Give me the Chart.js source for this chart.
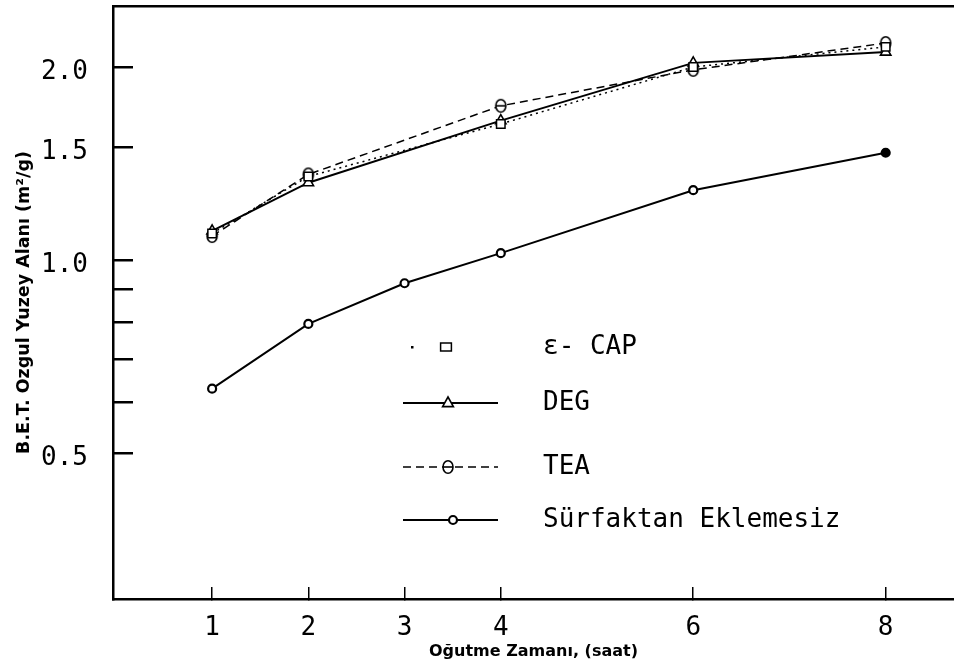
<!DOCTYPE html>
<html lang="tr">
<head>
<meta charset="utf-8">
<title>B.E.T. yüzey alanı - öğütme zamanı</title>
<script src="https://cdn.jsdelivr.net/npm/chart.js@4.4.1/dist/chart.umd.min.js"></script>
<style>
  html, body { margin: 0; padding: 0; background: #fff; }
  #wrap { position: relative; width: 954px; height: 666px; }
</style>
</head>
<body>
<div id="wrap"><canvas id="chart"></canvas></div>
<script>
// Öğütme zamanı (saat)
const saatUst = [1, 2, 4, 6, 8];
const saatAlt = [1, 2, 3, 4, 6, 8];

// B.E.T. özgül yüzey alanı (m2/g)
const capValues = [1.10, 1.35, 1.63, 2.00, 2.15];
const degValues = [1.11, 1.32, 1.65, 2.03, 2.11];
const teaValues = [1.09, 1.36, 1.74, 1.98, 2.18];
const surfValues = [0.63, 0.795, 0.92, 1.025, 1.285, 1.47];

const seriesNames = ['ε- CAP', 'DEG', 'TEA', 'Sürfaktan Eklemesiz'];

const xTicks = [1, 2, 3, 4, 6, 8];
const yTicks = [0.5, 0.6, 0.7, 0.8, 0.9, 1.0, 1.5, 2.0];
const yLabels = ['0.5', '', '', '', '', '1.0', '1.5', '2.0'];

const monoFont = "'DejaVu Sans Mono', 'Liberation Mono', monospace";
const sansFont = "'DejaVu Sans', 'Noto Sans', sans-serif";

function toPoints(xs, ys) {
  return xs.map((x, i) => ({ x: x, y: ys[i] }));
}

// θ shaped marker for TEA
function makeTheta() {
  const c = document.createElement('canvas');
  c.width = 14;
  c.height = 16;
  const g = c.getContext('2d');
  g.fillStyle = '#fff';
  g.strokeStyle = '#000';
  g.lineWidth = 1.6;
  g.beginPath();
  g.ellipse(7, 8, 5, 6.3, 0, 0, Math.PI * 2);
  g.fill();
  g.stroke();
  g.beginPath();
  g.moveTo(2, 8);
  g.lineTo(12, 8);
  g.stroke();
  return c;
}
const thetaImg = makeTheta();

// legend sits inside the plot, rows placed like the original
const legendRowY = [347, 403, 467, 520];
const legendLineX = [403, 498];
const legendMarkX = [446, 448, 448, 453];
const legendTextX = 543;

function drawMark(c, ds, x, y) {
  const r = ds.pointRadius;
  c.save();
  c.setLineDash([]);
  c.fillStyle = '#fff';
  c.strokeStyle = '#000';
  c.lineWidth = ds.pointBorderWidth;
  if (ds.pointStyle instanceof HTMLCanvasElement) {
    c.drawImage(ds.pointStyle, x - ds.pointStyle.width / 2, y - ds.pointStyle.height / 2);
  } else if (ds.pointStyle === 'rect') {
    c.beginPath();
    c.rect(x - r * 0.9, y - r * 0.65, r * 1.8, r * 1.3);
    c.fill();
    c.stroke();
  } else if (ds.pointStyle === 'triangle') {
    c.beginPath();
    c.moveTo(x, y - r);
    c.lineTo(x + r * 0.9, y + r * 0.6);
    c.lineTo(x - r * 0.9, y + r * 0.6);
    c.closePath();
    c.fill();
    c.stroke();
  } else {
    c.beginPath();
    c.arc(x, y, r, 0, Math.PI * 2);
    c.fill();
    c.stroke();
  }
  c.restore();
}

const legendPlugin = {
  id: 'insideLegend',
  afterDraw(chart) {
    const c = chart.ctx;
    chart.data.datasets.forEach((ds, i) => {
      const y = legendRowY[i];
      c.save();
      c.strokeStyle = '#000';
      c.fillStyle = '#000';
      if (i === 0) {
        // dotted sample: only a dot before the square
        c.fillRect(411, y - 1, 2.5, 2.5);
      } else {
        c.lineWidth = ds.borderWidth;
        c.setLineDash(ds.borderDash || []);
        c.beginPath();
        c.moveTo(legendLineX[0], y);
        c.lineTo(legendLineX[1], y);
        c.stroke();
      }
      c.restore();
      drawMark(c, ds, legendMarkX[i], y);
      c.save();
      c.fillStyle = '#000';
      c.font = '26px ' + monoFont;
      c.textBaseline = 'middle';
      c.textAlign = 'left';
      c.fillText(ds.label, legendTextX, y);
      c.restore();
    });
  }
};

new Chart(document.getElementById('chart'), {
  type: 'line',
  data: {
    datasets: [
      {
        label: seriesNames[0],
        data: toPoints(saatUst, capValues),
        borderColor: '#000',
        borderWidth: 1.5,
        borderDash: [2, 4],
        pointStyle: 'rect',
        pointRadius: 6,
        pointBorderWidth: 1.5,
        pointBackgroundColor: '#fff',
        pointBorderColor: '#000'
      },
      {
        label: seriesNames[1],
        data: toPoints(saatUst, degValues),
        borderColor: '#000',
        borderWidth: 2,
        pointStyle: 'triangle',
        pointRadius: 6,
        pointBorderWidth: 1.6,
        pointBackgroundColor: '#fff',
        pointBorderColor: '#000'
      },
      {
        label: seriesNames[2],
        data: toPoints(saatUst, teaValues),
        borderColor: '#000',
        borderWidth: 1.5,
        borderDash: [8, 5],
        pointStyle: thetaImg,
        pointRadius: 6,
        pointBorderWidth: 1.6,
        pointBackgroundColor: '#fff',
        pointBorderColor: '#000'
      },
      {
        label: seriesNames[3],
        data: toPoints(saatAlt, surfValues),
        borderColor: '#000',
        borderWidth: 2,
        pointStyle: 'circle',
        pointRadius: 4,
        pointBorderWidth: 2.2,
        pointBackgroundColor: ['#fff', '#fff', '#fff', '#fff', '#fff', '#000'],
        pointBorderColor: '#000'
      }
    ]
  },
  options: {
    responsive: true,
    maintainAspectRatio: false,
    animation: false,
    clip: false,
    layout: { autoPadding: false, padding: { top: 6, right: 0, bottom: 0, left: 0 } },
    elements: { line: { tension: 0 } },
    scales: {
      x: {
        type: 'linear',
        position: 'bottom',
        min: -0.03,
        max: 8.71,
        afterBuildTicks: (s) => { s.ticks = xTicks.map((v) => ({ value: v })); },
        afterFit: (s) => { s.height = 67; },
        ticks: {
          autoSkip: false,
          maxRotation: 0,
          padding: 26,
          color: '#000',
          font: { family: monoFont, size: 26 },
          callback: (v) => String(v)
        },
        grid: { drawOnChartArea: false, drawTicks: true, tickLength: -12, color: '#000', lineWidth: 1.5 },
        border: { display: true, color: '#000', width: 2.5 },
        title: {
          display: true,
          text: 'Oğutme Zamanı, (saat)',
          color: '#000',
          font: { family: sansFont, weight: 'bold', size: 16 },
          padding: { top: 0, bottom: 5 }
        }
      },
      xTop: {
        type: 'linear',
        position: 'top',
        min: -0.03,
        max: 8.71,
        afterFit: (s) => { s.height = 0; },
        ticks: { display: false },
        grid: { drawOnChartArea: false, drawTicks: false },
        border: { display: true, color: '#000', width: 2.5 }
      },
      y: {
        type: 'logarithmic',
        position: 'left',
        min: 0.296,
        max: 2.49,
        afterBuildTicks: (s) => { s.ticks = yTicks.map((v) => ({ value: v })); },
        afterFit: (s) => {
          s.width = 113;
          // labels sit left of the axis, no room needed above or below
          s.paddingTop = 0;
          s.paddingBottom = 0;
        },
        ticks: {
          autoSkip: false,
          padding: 45,
          labelOffset: 5,
          color: '#000',
          font: { family: monoFont, size: 26 },
          callback: (v, i) => yLabels[i]
        },
        grid: { drawOnChartArea: false, drawTicks: true, tickLength: -20, color: '#000', lineWidth: 2.5 },
        border: { display: true, color: '#000', width: 2.5 },
        title: {
          display: true,
          text: 'B.E.T. Ozgul Yuzey Alanı (m²/g)',
          color: '#000',
          font: { family: sansFont, weight: 'bold', size: 17.5 },
          padding: { top: 14, bottom: 0 }
        }
      }
    },
    plugins: {
      legend: { display: false },
      tooltip: { enabled: false }
    }
  },
  plugins: [legendPlugin]
});
</script>
</body>
</html>
